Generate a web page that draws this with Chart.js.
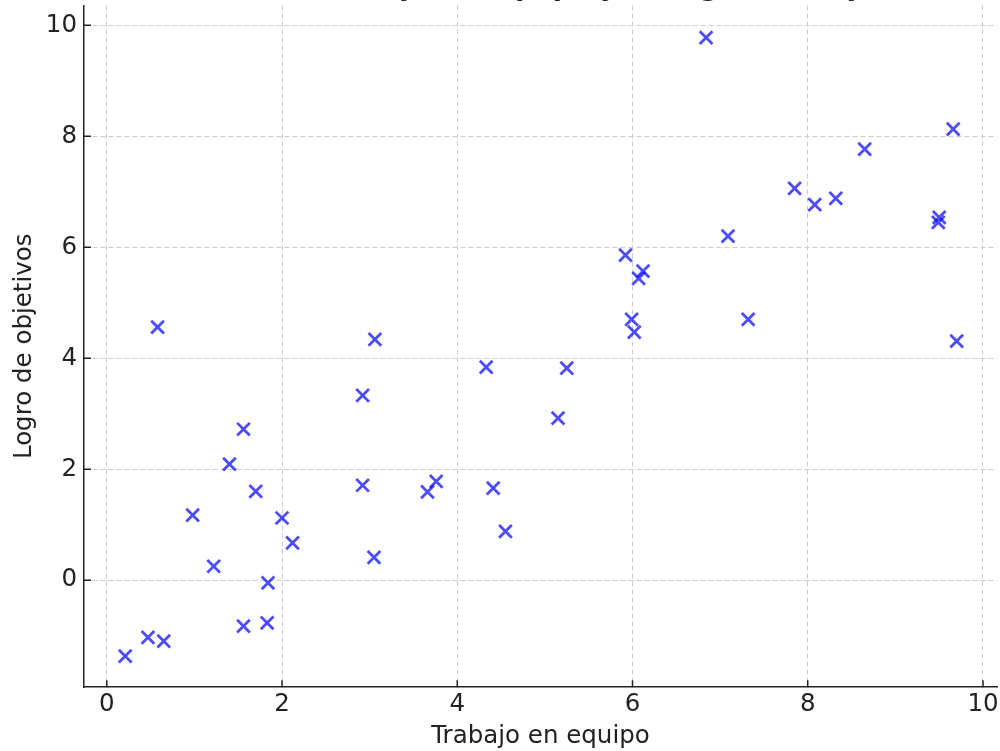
<!DOCTYPE html>
<html>
<head>
<meta charset="utf-8">
<script src="https://cdn.jsdelivr.net/npm/chart.js@4"></script>
<style>
  html, body { margin: 0; padding: 0; background: #fff; overflow: hidden; }
  #wrap { position: absolute; left: 0; top: -40px; width: 1000px; height: 791px; }
</style>
</head>
<body>
<div id="wrap"><canvas id="chart"></canvas></div>
<script>
// Trabajo en equipo (x) vs Logro de objetivos (y)
const trabajo = [0.21, 0.47, 0.65, 0.58, 0.98, 1.22, 1.40, 1.56, 1.56, 1.70,
                 1.83, 1.84, 2.00, 2.12, 2.92, 2.92, 3.06, 3.05, 3.66, 3.76,
                 4.33, 4.41, 4.55, 5.15, 5.25, 5.92, 6.12, 6.07, 5.99, 6.02,
                 6.84, 7.09, 7.32, 7.85, 8.08, 8.32, 8.65, 9.50, 9.49, 9.66, 9.70];
const logro   = [-1.37, -1.03, -1.10, 4.56, 1.17, 0.25, 2.09, 2.72, -0.83, 1.60,
                 -0.77, -0.05, 1.12, 0.67, 3.33, 1.71, 4.34, 0.41, 1.59, 1.78,
                 3.84, 1.66, 0.88, 2.92, 3.82, 5.86, 5.57, 5.44, 4.70, 4.47,
                 9.78, 6.20, 4.70, 7.06, 6.77, 6.88, 7.77, 6.54, 6.45, 8.13, 4.31];
const xTicks = [0, 2, 4, 6, 8, 10];
const yTicks = [0, 2, 4, 6, 8, 10];

const points = trabajo.map((x, i) => ({ x: x, y: logro[i] }));

const font = { family: 'DejaVu Sans', size: 24.5 };

// matplotlib style: short tick marks pointing into the plot
const innerTicks = {
  id: 'innerTicks',
  afterDraw(chart) {
    const ctx = chart.ctx;
    const x = chart.scales.x, y = chart.scales.y;
    ctx.save();
    ctx.strokeStyle = '#222';
    ctx.lineWidth = 1.5;
    ctx.beginPath();
    x.ticks.forEach((t, i) => {
      const px = x.getPixelForTick(i);
      ctx.moveTo(px, y.bottom);
      ctx.lineTo(px, y.bottom - 7);
    });
    y.ticks.forEach((t, i) => {
      const py = y.getPixelForTick(i);
      ctx.moveTo(x.left, py);
      ctx.lineTo(x.left + 7, py);
    });
    ctx.stroke();
    ctx.restore();
  }
};

new Chart(document.getElementById('chart'), {
  type: 'scatter',
  data: {
    datasets: [{
      label: 'Datos',
      data: points,
      pointStyle: 'crossRot',
      pointRadius: 9,
      pointHoverRadius: 9,
      borderWidth: 2.8,
      borderColor: 'rgba(0, 0, 255, 0.7)',
      backgroundColor: 'rgba(0, 0, 255, 0.7)'
    }]
  },
  options: {
    responsive: true,
    maintainAspectRatio: false,
    animation: false,
    layout: { autoPadding: false, padding: { left: 2, right: 0, top: 0, bottom: 0 } },
    plugins: {
      legend: { display: false },
      tooltip: { enabled: false },
      title: {
        display: true,
        text: 'Relación entre el Trabajo en Equipo y el Logro de Objetivos',
        color: '#222',
        font: { family: 'DejaVu Sans', size: 27, weight: 'bold' },
        padding: { top: 12, bottom: 1 }
      }
    },
    scales: {
      x: {
        type: 'linear',
        min: -0.26,
        max: 10.16,
        afterBuildTicks: s => { s.ticks = xTicks.map(v => ({ value: v })); },
        afterFit: s => { s.paddingRight = 3; },
        ticks: { color: '#222', font: font, padding: 2.5, maxRotation: 0 },
        grid: { color: '#cccccc', lineWidth: 1, drawTicks: false },
        border: { display: true, color: '#222', width: 1.5, dash: [5, 3] },
        title: { display: true, text: 'Trabajo en equipo', color: '#222', font: font, padding: { top: 0, bottom: 0 } }
      },
      y: {
        type: 'linear',
        min: -1.93,
        max: 10.36,
        afterBuildTicks: s => { s.ticks = yTicks.map(v => ({ value: v })); },
        afterFit: s => { s.width = 82; },
        ticks: { color: '#222', font: font, padding: 7 },
        grid: { color: '#cccccc', lineWidth: 1, drawTicks: false },
        border: { display: true, color: '#222', width: 1.5, dash: [5, 3] },
        title: { display: true, text: 'Logro de objetivos', color: '#222', font: font, padding: { top: 8, bottom: 5 } }
      }
    }
  },
  plugins: [innerTicks]
});
</script>
</body>
</html>
